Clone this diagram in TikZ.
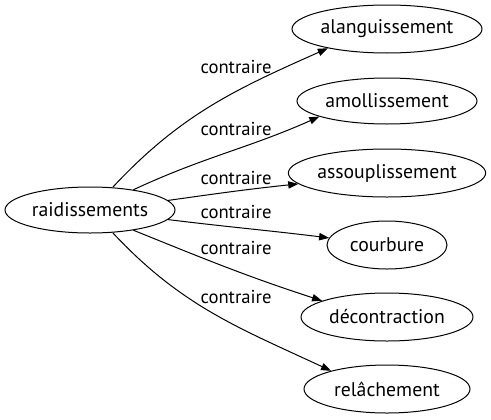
\documentclass[tikz,border=0pt]{standalone}
\usepackage{fontspec}
\setmainfont{PT Sans}
\usepackage{tikz}
\usetikzlibrary{arrows.meta,shapes.geometric}

\begin{document}
\begin{tikzpicture}[x=0.75pt,y=0.75pt,
  word/.style={draw,ellipse,line width=0.75pt,inner sep=0pt,minimum height=36pt,font=\fontsize{14.8pt}{17pt}\selectfont},
  rel/.style={line width=0.75pt,-{Triangle[length=7.5pt,width=5.5pt]}},
  lbl/.style={inner sep=0pt,font=\fontsize{14pt}{16pt}\selectfont}]
\useasboundingbox (0,0) rectangle (491,419);
\node[word,minimum width=127.5pt,minimum height=34.5pt] (raid) at (90,209) {raidissements};
\node[word,minimum width=142.5pt] (alang) at (387,390) {alanguissement};
\node[word,minimum width=135pt,minimum height=34.5pt] (amol) at (387,318) {amollissement};
\node[word,minimum width=147pt] (assou) at (387,246) {assouplissement};
\node[word,minimum width=90pt] (courb) at (387,174) {courbure};
\node[word,minimum width=129pt] (decon) at (387,102) {décontraction};
\node[word,minimum width=124.5pt] (relac) at (387,30) {relâchement};
\draw[rel] (raid.45) to[out=47,in=204] (alang.198);
\draw[rel] (raid.25) to[out=25,in=204] (amol.193);
\draw[rel] (raid.7) to[out=8,in=186] (assou.187);
\draw[rel] (raid.-7) to[out=-7,in=173] (courb.173);
\draw[rel] (raid.-25) to[out=-22,in=162] (decon.166);
\draw[rel] (raid.-45) to[out=-47,in=155] (relac.162);
\node[lbl] (l1) at (236,352) {contraire};
\node[lbl] (l2) at (236,290) {contraire};
\node[lbl] (l3) at (236,241) {contraire};
\node[lbl] (l4) at (236,207) {contraire};
\node[lbl] (l5) at (236,171) {contraire};
\node[lbl] (l6) at (236,122) {contraire};
\end{tikzpicture}
\end{document}
